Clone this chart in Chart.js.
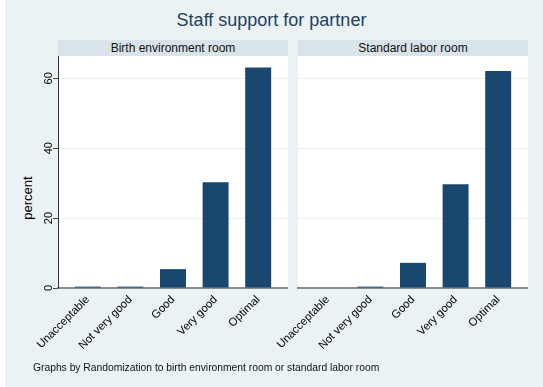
<!DOCTYPE html>
<html>
<head>
<meta charset="utf-8">
<script src="https://cdn.jsdelivr.net/npm/chart.js@4.4.1/dist/chart.umd.min.js"></script>
<style>
  html, body { margin: 0; padding: 0; background: #ffffff; }
  body { width: 543px; height: 387px; position: relative; overflow: hidden; font-family: "Liberation Sans", Arial, sans-serif; }
  #graph { position: absolute; left: 5px; top: 0; width: 538px; height: 387px; background: #eaf2f3; }
  #title { position: absolute; left: 0; width: 543px; top: 10px; text-align: center; font-size: 18px; color: #24405f; margin-left: -5px; }
  .strip { position: absolute; top: 40px; height: 16px; line-height: 16px; width: 230px; background: #d8e4e9; text-align: center; font-size: 12px; color: #111; }
  #strip1 { left: 53px; }
  #strip2 { left: 293px; }
  #ytitle { position: absolute; left: 22px; top: 198px; font-size: 13px; color: #000; transform: translate(-50%, -50%) rotate(-90deg); white-space: nowrap; }
  canvas { position: absolute; }
  #panel1 { left: 0; top: 56px; }
  #panel2 { left: 240px; top: 56px; }
  #note { position: absolute; left: 28px; top: 362px; font-size: 10.3px; color: #111; white-space: nowrap; }
</style>
</head>
<body>
<div id="graph">
  <div id="title">Staff support for partner</div>
  <div class="strip" id="strip1"></div>
  <div class="strip" id="strip2"></div>
  <div id="ytitle">percent</div>
  <canvas id="panel1" width="283" height="310"></canvas>
  <canvas id="panel2" width="283" height="310"></canvas>
  <div id="note">Graphs by Randomization to birth environment room or standard labor room</div>
</div>
<script>
// rating categories along the x axis
const categories = ['Unacceptable', 'Not very good', 'Good', 'Very good', 'Optimal'];
const panelNames = ['Birth environment room', 'Standard labor room'];

// percent of respondents per rating, one array per room
const birthRoom = [0.4, 0.4, 5.4, 30.3, 63.1];
const laborRoom = [0, 0.4, 7.2, 29.7, 62.1];

const yTicks = [0, 20, 40, 60];
const yMax = 66.4;

const FONT = '"Liberation Sans", Arial, sans-serif';
const BAR = '#1a476f';

document.getElementById('strip1').textContent = panelNames[0];
document.getElementById('strip2').textContent = panelNames[1];

// white plot region behind the bars
const plotBackground = {
  id: 'plotBackground',
  beforeDraw(chart) {
    const { ctx, chartArea: a } = chart;
    ctx.save();
    ctx.fillStyle = '#ffffff';
    ctx.fillRect(a.left, a.top, a.right - a.left, a.bottom - a.top);
    ctx.restore();
  }
};

function makePanel(id, values, showYAxis) {
  return new Chart(document.getElementById(id), {
    type: 'bar',
    data: {
      datasets: [{
        data: values.map((v, i) => ({ x: i, y: v })),
        backgroundColor: BAR,
        borderWidth: 0,
        categoryPercentage: 1,
        barPercentage: 0.61,
      }],
    },
    options: {
      responsive: false,
      animation: false,
      layout: { padding: 0 },
      plugins: { legend: { display: false }, tooltip: { enabled: false } },
      scales: {
        x: {
          type: 'linear',
          offset: false,
          min: -0.7,
          max: 4.7,
          afterBuildTicks: (s) => { s.ticks = categories.map((c, i) => ({ value: i })); },
          afterFit: (s) => { s.height = 78; s.paddingLeft = 0; s.paddingRight = 0; },
          ticks: {
            autoSkip: false,
            minRotation: 45,
            maxRotation: 45,
            padding: 2,
            color: '#000',
            font: { family: FONT, size: 11.3 },
            callback: (v) => categories[v],
          },
          grid: { drawOnChartArea: false, drawTicks: true, tickLength: 3, tickColor: 'rgba(0,0,0,0)' },
          border: { display: true, color: '#8c8c8c', width: 2 },
        },
        y: {
          min: 0,
          max: yMax,
          afterBuildTicks: (s) => { s.ticks = yTicks.map((v) => ({ value: v })); },
          afterFit: (s) => { s.width = 53; s.paddingTop = 0; s.paddingBottom = 0; },
          ticks: {
            display: showYAxis,
            minRotation: 90,
            maxRotation: 90,
            crossAlign: 'center',
            padding: -2,
            color: '#000',
            font: { family: FONT, size: 11 },
          },
          grid: {
            drawTicks: showYAxis,
            tickLength: 5,
            tickColor: '#444',
            color: (ctx) => (ctx.tick && ctx.tick.value === 0 ? 'rgba(0,0,0,0)' : '#e8f0f2'),
            lineWidth: 1,
          },
          border: { display: showYAxis, color: '#333', width: 1 },
        },
      },
    },
    plugins: [plotBackground],
  });
}

makePanel('panel1', birthRoom, true);
makePanel('panel2', laborRoom, false);
</script>
</body>
</html>
